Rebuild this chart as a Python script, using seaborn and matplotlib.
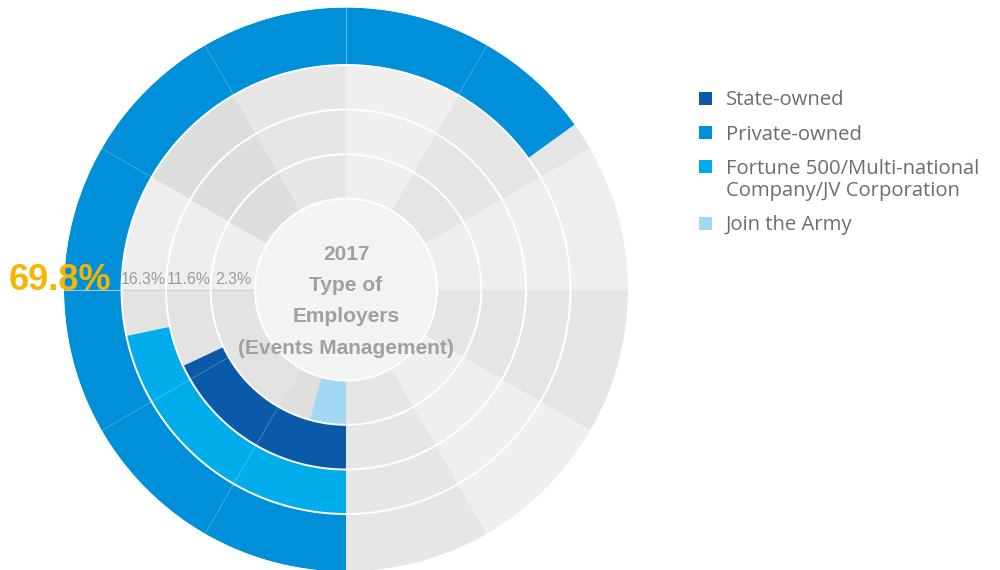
import numpy as np
import matplotlib
matplotlib.use("Agg")
import matplotlib.pyplot as plt
import seaborn as sns
from matplotlib.patches import Rectangle

# ---------------- data ----------------
# rings, from outer to inner
ring_labels = ["Private-owned",
               "Fortune 500/Multi-national\nCompany/JV Corporation",
               "State-owned",
               "Join the Army"]
ring_values = [69.8, 16.3, 11.6, 2.3]
ring_value_text = ["69.8%", "16.3%", "11.6%", "2.3%"]
# each ring has its own angular axis (value at a full turn)
ring_axis_max = [107.3, 75.2, 64.4, 53.5]

legend_labels = ["State-owned",
                 "Private-owned",
                 "Fortune 500/Multi-national\nCompany/JV Corporation",
                 "Join the Army"]
center_lines = ["2017", "Type of", "Employers", "(Events Management)"]

# ---------------- style ----------------
sns.set_theme(style="white")
plt.rcParams["font.family"] = ["Liberation Sans", "DejaVu Sans"]

colors = {
    "State-owned": "#0a5aa9",
    "Private-owned": "#0090d9",
    "Fortune 500/Multi-national\nCompany/JV Corporation": "#00adea",
    "Join the Army": "#a2d8f4",
}
# background sector greys, 30 degree sectors clockwise starting at 12 o'clock
sector_greys_top = ["#efefef", "#e5e5e5", "#eeeeee", "#e5e5e5", "#efefef", "#e6e6e6",
                    "#dedfdf", "#e2e2e2", "#e3e3e3", "#eeeeee", "#dcdddd", "#e6e6e6"]
# reorder so that index 0 starts at 6 o'clock (matplotlib theta zero)
sector_greys = sector_greys_top[6:] + sector_greys_top[:6]

W, H = 1000, 570
cx, cy, R = 346.0, 289.5, 282.0
ring_edges = [282.0, 224.5, 180.0, 135.3, 91.0]

fig = plt.figure(figsize=(W / 100, H / 100), dpi=100)
fig.patch.set_facecolor("white")
ax = fig.add_axes([(cx - R) / W, (H - cy - R) / H, 2 * R / W, 2 * R / H],
                  projection="polar")
ax.set_theta_zero_location("S")
ax.set_theta_direction(-1)
ax.set_ylim(0, R)
ax.set_axis_off()

sector_theta = np.deg2rad(np.arange(12) * 30)
sector_w = np.deg2rad(30)

for i, (lab, val, vmax) in enumerate(zip(ring_labels, ring_values, ring_axis_max)):
    outer, inner = ring_edges[i], ring_edges[i + 1]
    h = outer - inner
    # background
    ax.bar(sector_theta, h, width=sector_w, bottom=inner, align="edge",
           color=sector_greys, linewidth=0, zorder=1)
    # value arc
    sweep = val / vmax * 2 * np.pi
    ax.bar(0, h, width=sweep, bottom=inner, align="edge",
           color=colors[lab], linewidth=0, zorder=2)
    # faint seams at sector boundaries inside the arc
    for t in sector_theta[1:]:
        if t < sweep:
            ax.plot([t, t], [inner, outer], color="white", alpha=0.28, lw=0.6, zorder=3)
# seam at 12 o'clock for outer ring
ax.plot([np.pi, np.pi], [ring_edges[1], ring_edges[0]], color="white", alpha=0.28, lw=0.6, zorder=3)

# axis line at 9 o'clock
ax.plot([np.pi / 2, np.pi / 2], [ring_edges[-1], R], color="#b9d2e2", alpha=0.85, lw=0.8, zorder=4)

# center disc
ax.bar(0, ring_edges[-1], width=2 * np.pi, bottom=0, align="edge",
       color="#f2f3f3", linewidth=0, zorder=5)

# white ring separators
tt = np.linspace(0, 2 * np.pi, 720)
for r in ring_edges[1:]:
    ax.plot(tt, np.full_like(tt, r), color="white", lw=1.4, zorder=6)

# ---------------- labels on the left ----------------
def fx(px):
    return px / W

def fy(py):
    return 1 - py / H

fig.text(fx(111), fy(290.5), ring_value_text[0], ha="right", va="baseline",
         fontsize=26, fontweight="bold", color="#f6b500", zorder=10)
label_right = [165.5, 211, 251]
for txt, xr in zip(ring_value_text[1:], label_right):
    fig.text(fx(xr), fy(283.5), txt, ha="right", va="baseline",
             fontsize=11.4, color="#9b9b9b", zorder=10)

# ---------------- center title ----------------
for line, py in zip(center_lines, [254, 285.5, 317, 348.5]):
    fig.text(fx(cx), fy(py), line, ha="center", va="center",
             fontsize=15, fontweight="bold", color="#a0a0a0", zorder=10)

# ---------------- legend ----------------
sq = 13.0
y = 98.3
for lab in legend_labels:
    fig.patches.append(Rectangle((fx(699), fy(y + sq / 2)), sq / W, sq / H,
                                 transform=fig.transFigure, color=colors[lab],
                                 linewidth=0, figure=fig))
    for k, part in enumerate(lab.split("\n")):
        fig.text(fx(726), fy(y + 7.0 + k * 22.3), part, ha="left", va="baseline",
                 fontsize=14.6, color="#6d6d6d", family=["Open Sans", "DejaVu Sans"])
    y += 34.3 + 22.3 * (lab.count("\n"))

fig.savefig("out.png", dpi=100, facecolor="white")
